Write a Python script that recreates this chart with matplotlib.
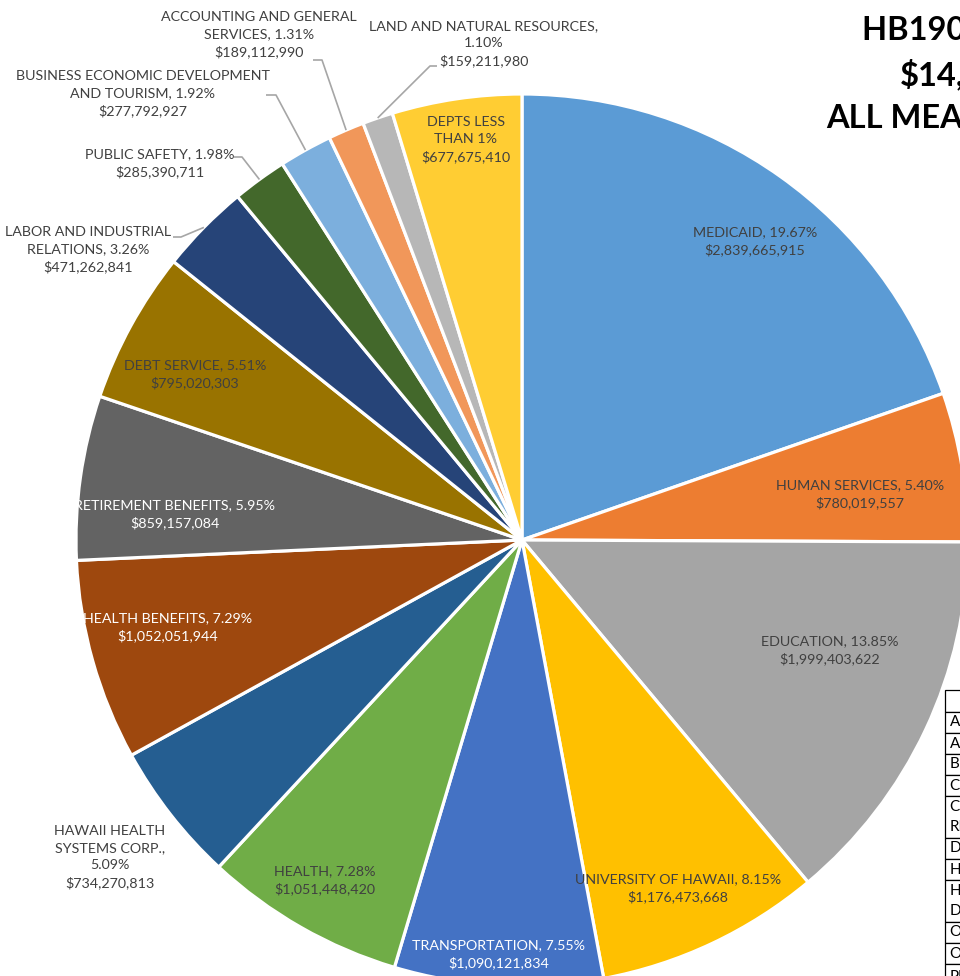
import matplotlib
matplotlib.use("Agg")
import matplotlib.pyplot as plt
import numpy as np

plt.rcParams['font.family'] = ['Lato', 'DejaVu Sans']

# ---------------- data ----------------
categories = [
    "MEDICAID", "HUMAN SERVICES", "EDUCATION", "UNIVERSITY OF HAWAII",
    "TRANSPORTATION", "HEALTH", "HAWAII HEALTH\nSYSTEMS CORP.", "HEALTH BENEFITS",
    "RETIREMENT BENEFITS", "DEBT SERVICE", "LABOR AND INDUSTRIAL\nRELATIONS",
    "PUBLIC SAFETY", "BUSINESS ECONOMIC DEVELOPMENT\nAND TOURISM",
    "ACCOUNTING AND GENERAL\nSERVICES", "LAND AND NATURAL RESOURCES",
    "DEPTS LESS\nTHAN 1%",
]
amounts = [
    2839665915, 780019557, 1999403622, 1176473668,
    1090121834, 1051448420, 734270813, 1052051944,
    859157084, 795020303, 471262841,
    285390711, 277792927,
    189112990, 159211980,
    677675410,
]
colors = [
    "#5B9BD5", "#ED7D31", "#A5A5A5", "#FFC000",
    "#4472C4", "#70AD47", "#255E91", "#9E480E",
    "#636363", "#997300", "#264478",
    "#43682B", "#7CAFDD",
    "#F1975A", "#B7B7B7",
    "#FFCD33",
]
title_lines = ["HB1900 HD1", "$14,438,080,019", "ALL MEANS OF FINANCING"]
table_rows = ["AGRICULTURE", "ATTORNEY GENERAL", "BUDGET AND FINANCE",
              "COMMERCE AND CONSUMER AFFAIRS", "CORRECTIONS AND\nREHABILITATION",
              "DEFENSE", "HAWAIIAN HOME LANDS", "HUMAN RESOURCES\nDEVELOPMENT",
              "OFFICE OF THE GOVERNOR", "OFFICE OF THE LT. GOVERNOR", "PUBLIC"]

# ---------------- layout (pixels) ----------------
W, H = 960, 976
CX, CY, R = 522, 540, 446
# separator between name and percent
seps = [", ", ", ", ", ", ", ", ", ", ", ", ",\n", ", ", ", ", ", ", ", ",
        ", ", ", ", ", ", ",\n", None]
label_pos = [(755, 241), (860, 494), (830, 650), (678, 888), (499, 954),
             (325, 880), (110, 857), (168, 627), (175, 514), (195, 374),
             (88, 250), (160, 163), (143, 94), (259, 35), (484, 44), (466, 140)]
label_col = ["#404040"] * 16
for i in (4, 7, 8):
    label_col[i] = "white"
# leader lines: (start, elbow) in pixels; end computed on the slice
leaders = {10: [(173, 237), (181, 237)],
           11: [(234, 157), (242, 157)],
           12: [(266, 95), (276, 95)],
           13: [(313, 60), (322, 60)],
           14: [(437, 66), (430, 66)]}

fig = plt.figure(figsize=(W / 100, H / 100), dpi=100)
ax = fig.add_axes([0, 0, 1, 1])

def P(x, y):
    return x, H - y

wedges, _ = ax.pie(amounts, colors=colors, startangle=90, counterclock=False,
                   center=P(CX, CY), radius=R,
                   wedgeprops=dict(edgecolor="white", linewidth=2.3))
ax.set_xlim(0, W)
ax.set_ylim(0, H)
ax.set_aspect("equal")
ax.axis("off")

total = sum(amounts)
for i, (name, amt) in enumerate(zip(categories, amounts)):
    if seps[i] is None:
        txt = f"{name}\n${amt:,}"
    else:
        txt = f"{name}{seps[i]}{amt / total * 100:.2f}%\n${amt:,}"
    x, y = P(*label_pos[i])
    ax.text(x, y, txt, ha="center", va="center", fontsize=10.3,
            color=label_col[i], linespacing=1.5)

# leader lines
for i, pts in leaders.items():
    w = wedges[i]
    mid = np.deg2rad((w.theta1 + w.theta2) / 2)
    ex = CX + R * np.cos(mid)
    ey = CY - R * np.sin(mid)
    xs = [p[0] for p in pts] + [ex]
    ys = [H - p[1] for p in pts] + [H - ey]
    ax.plot(xs, ys, color="#A6A6A6", lw=1.2, solid_capstyle="butt")

# title (cropped at right edge)
tx = [862, 900, 826]
ty = [31, 74, 118]
for t, x, y in zip(title_lines, tx, ty):
    ax.text(*P(x, y), t, ha="left", va="center", fontsize=23.5,
            fontweight="bold", color="black")

# table at bottom right (cropped)
row_edges = [690, 712, 733, 754, 775, 796, 838, 859, 880, 922, 943, 964, 990]
x0 = 945
for k in range(len(row_edges) - 1):
    y0, y1 = row_edges[k], row_edges[k + 1]
    ax.add_patch(plt.Rectangle(P(x0, y1), 200, y1 - y0, fill=True,
                               facecolor="white", edgecolor="black", lw=0.9,
                               clip_on=True))
    if k >= 1:
        ax.text(*P(x0 + 5, (y0 + y1) / 2), table_rows[k - 1], ha="left",
                va="center", fontsize=11, color="black", linespacing=1.5)

fig.savefig("out.png", dpi=100)
